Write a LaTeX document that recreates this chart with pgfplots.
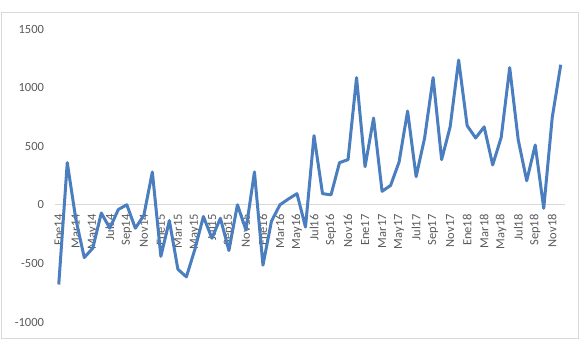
\documentclass[border=0pt]{standalone}
\usepackage{fontspec}
\setmainfont{Carlito}
\usepackage{pgfplots}
\pgfplotsset{compat=1.18}
\definecolor{lineblue}{HTML}{4A7EBF}
\definecolor{zerogray}{HTML}{D9D9D9}
\definecolor{labgray}{HTML}{595959}
\definecolor{framegray}{HTML}{D9D9D9}
\begin{document}
\begin{tikzpicture}[x=1pt,y=1pt]
\path[use as bounding box] (0,0) rectangle (580,344);
\draw[framegray, line width=0.75pt] (1.5,6) rectangle (578.5,332);
\begin{axis}[
  at={(54.5pt,22pt)}, anchor=south west,
  scale only axis, width=510.5pt, height=293pt,
  xmin=-0.5, xmax=59.5, ymin=-1000, ymax=1500,
  axis x line=middle, axis y line=left,
  axis line style={-},
  x axis line style={draw=zerogray, line width=0.75pt},
  y axis line style={draw=none},
  hide obscured x ticks=false, hide obscured y ticks=false,
  major tick length=0pt,
  ytick={-1000,-500,0,500,1000,1500},
  yticklabels={-1000,-500,0,500,1000,1500},
  xtick={0,2,...,58},
  xticklabels={Ene14,Mar14,May14,Jul14,Sep14,Nov14,Ene15,Mar15,May15,Jul15,Sep15,Nov15,Ene16,Mar16,May16,Jul16,Sep16,Nov16,Ene17,Mar17,May17,Jul17,Sep17,Nov17,Ene18,Mar18,May18,Jul18,Sep18,Nov18},
  tick label style={font=\fontsize{12.5}{14}\selectfont, text=labgray},
  xticklabel style={rotate=90, anchor=east},
  yticklabel style={anchor=east},
  xticklabel shift=6pt,
  yticklabel shift=7pt,
  clip=false,
]
\addplot[lineblue, line width=3pt, line join=round, mark=none] table[x=i, y=v] {
i v
0 -680
1 360
2 -120
3 -450
4 -370
5 -70
6 -200
7 -40
8 0
9 -200
10 -90
11 280
12 -440
13 -135
14 -550
15 -615
16 -380
17 -100
18 -285
19 -115
20 -390
21 0
22 -215
23 280
24 -515
25 -140
26 0
27 50
28 95
29 -190
30 590
31 95
32 85
33 360
34 385
35 1085
36 325
37 740
38 115
39 165
40 365
41 800
42 240
43 570
44 1085
45 385
46 665
47 1235
48 675
49 570
50 665
51 340
52 575
53 1170
54 555
55 205
56 510
57 -30
58 745
59 1195
};
\end{axis}
\end{tikzpicture}
\end{document}
